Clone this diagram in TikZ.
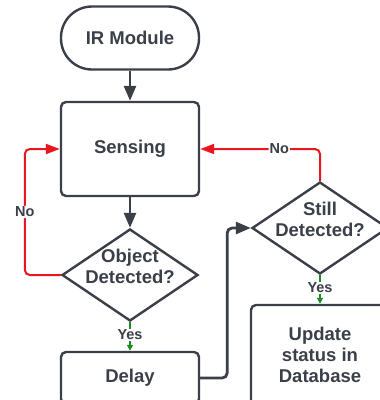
\documentclass[tikz,border=0pt]{standalone}
\usepackage{fontspec}
\setmainfont{Liberation Sans}
\usetikzlibrary{shapes.geometric,arrows.meta}

\definecolor{ink}{HTML}{3A3F48}
\definecolor{nored}{HTML}{E8161E}
\definecolor{yesgreen}{HTML}{1E8C22}

\tikzset{
  boxfont/.style={text=ink, font=\bfseries\fontsize{18.5}{21}\selectfont, align=center},
  terminal/.style={draw=ink, line width=2.4pt, rounded corners=31pt, boxfont,
    minimum width=138pt, minimum height=63pt, inner sep=0pt},
  process/.style={draw=ink, line width=2.4pt, rounded corners=5pt, boxfont,
    minimum width=138pt, inner sep=0pt},
  decision/.style={draw=ink, line width=2.4pt, diamond, shape aspect=1.48,
    minimum width=136pt, minimum height=92pt, inner sep=0pt},
  dtext/.style={boxfont, yshift=9pt},
  flow/.style={draw=ink, line width=2.8pt, -{Triangle[length=15pt,width=12pt]}},
  noflow/.style={draw=nored, line width=2pt, rounded corners=5pt,
    -{Triangle[length=14pt,width=10pt]}},
  yesflow/.style={draw=yesgreen, line width=2.6pt, -{Triangle[length=6pt,width=6pt]}},
  branch/.style={fill=white, text=ink, inner sep=1pt,
    font=\bfseries\fontsize{14.5}{16}\selectfont},
}

\begin{document}
\begin{tikzpicture}[x=1pt,y=-1pt]
  \useasboundingbox (0,0) rectangle (380,400);

  % boxes
  \node[terminal] (ir) at (130,38) {IR Module};
  \node[process, minimum height=94pt] (sense) at (130,149) {Sensing};
  \node[decision, label={[dtext]center:Object\\Detected?}] (obj) at (130,275) {};
  \node[process, minimum height=52pt] (delay) at (130,378) {Delay};
  \node[decision, label={[dtext]center:Still\\Detected?}] (still) at (320,228) {};
  \node[process, minimum height=100pt] (update) at (320,355) {Update\\status in\\Database};

  % main flow
  \draw[flow] (ir) -- (sense);
  \draw[flow] (sense) -- (obj);
  \draw[flow, rounded corners=5pt] (delay.east) -- ++(27,0) |- (still.west);

  % yes branches
  \draw[yesflow] (obj.south) -- node[branch, pos=0.45] (yesobj) {Yes} (delay.north);
  \draw[yesflow] (still.south) -- node[branch, pos=0.45] (yesstill) {Yes} (update.north);

  % no branches back to sensing
  \draw[noflow] (obj.west) -- ++(-36,0) |- node[branch, pos=0.25] (noobj) {No} (sense.west);
  \draw[noflow] (still.north) |- node[branch, pos=0.67] (nostill) {No} (sense.east);
\end{tikzpicture}
\end{document}
